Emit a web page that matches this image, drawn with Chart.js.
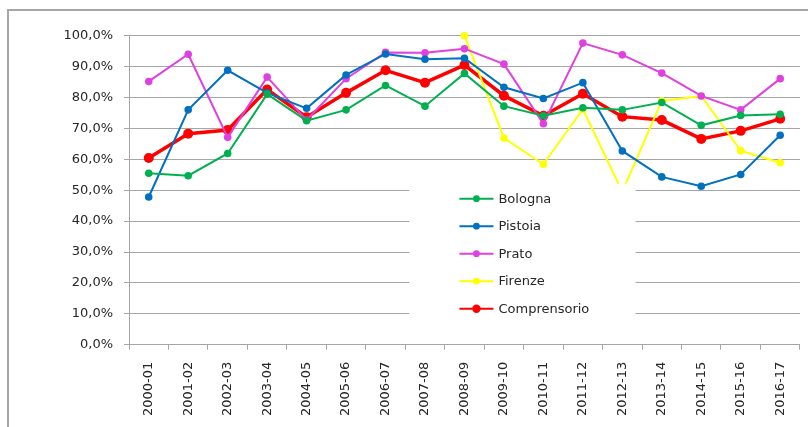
<!DOCTYPE html>
<html>
<head>
<meta charset="utf-8">
<script src="https://cdn.jsdelivr.net/npm/chart.js@4/dist/chart.umd.min.js"></script>
<style>
  html, body { margin: 0; padding: 0; background: #fff; }
  #wrap { position: relative; width: 808px; height: 427px; overflow: hidden; }
  #frame { position: absolute; left: 7px; top: 9px; width: 900px; height: 600px; border-top: 2px solid #a6a6a6; border-left: 2px solid #a6a6a6; }
  canvas { position: absolute; left: 0; top: 0; }
</style>
</head>
<body>
<div id="wrap">
  <div id="frame"></div>
  <canvas id="c" width="808" height="427"></canvas>
</div>
<script>
const categories = ['2000-01','2001-02','2002-03','2003-04','2004-05','2005-06','2006-07','2007-08','2008-09','2009-10','2010-11','2011-12','2012-13','2013-14','2014-15','2015-16','2016-17'];
const bologna      = [55.5, 54.7, 61.9, 81.1, 72.5, 76.0, 83.9, 77.2, 87.8, 77.2, 74.1, 76.7, 76.0, 78.4, 71.0, 74.2, 74.6];
const pistoia      = [47.8, 76.0, 88.8, 81.5, 76.5, 87.3, 94.1, 92.4, 92.7, 83.3, 79.7, 84.8, 62.7, 54.3, 51.3, 55.1, 67.8];
const prato        = [85.2, 94.0, 67.1, 86.6, 72.7, 86.1, 94.6, 94.5, 95.8, 90.8, 71.5, 97.6, 93.8, 87.9, 80.5, 76.0, 86.1];
const firenze      = [null, null, null, null, null, null, null, null, 100.0, 66.9, 58.4, 76.2, 49.5, 78.9, 80.5, 62.8, 58.9];
const comprensorio = [60.4, 68.3, 69.5, 82.6, 73.6, 81.5, 88.8, 84.8, 90.5, 80.6, 74.1, 81.2, 73.8, 72.7, 66.6, 69.2, 73.1];
const yTicks = [0, 10, 20, 30, 40, 50, 60, 70, 80, 90, 100];
const seriesNames = ['Bologna', 'Pistoia', 'Prato', 'Firenze', 'Comprensorio'];
const seriesColors = ['#00B050', '#0070C0', '#E040E0', '#FFFF00', '#FF0000'];

const GRID = '#a6a6a6';
Chart.defaults.font.family = "'DejaVu Sans', Verdana, sans-serif";
Chart.defaults.font.size = 13;
Chart.defaults.color = '#262626';

function mk(i, data, thick) {
  return {
    label: seriesNames[i],
    data: data,
    borderColor: seriesColors[i],
    backgroundColor: seriesColors[i],
    borderWidth: thick ? 3.5 : 2,
    pointRadius: thick ? 5 : 3.8,
    pointHoverRadius: thick ? 5 : 3.8,
    pointBorderWidth: 0,
    tension: 0,
    spanGaps: false,
    clip: false
  };
}

const insideLegend = {
  id: 'insideLegend',
  afterDatasetsDraw(chart) {
    const ctx = chart.ctx;
    const a = chart.chartArea;
    const w = a.right - a.left, h = a.bottom - a.top;
    const bx = a.left + w * 0.418, by = a.top + h * 0.479;
    const bw = w * 0.337, bh = h * 0.476;
    ctx.save();
    ctx.fillStyle = '#ffffff';
    ctx.fillRect(bx, by, bw, bh);
    const x0 = bx + 50;
    const y0 = by + 15;
    const step = 27.5;
    ctx.font = "13px 'DejaVu Sans'";
    ctx.textBaseline = 'middle';
    ctx.textAlign = 'left';
    chart.data.datasets.forEach((ds, i) => {
      const y = y0 + i * step;
      ctx.strokeStyle = ds.borderColor;
      ctx.lineWidth = 2;
      ctx.beginPath();
      ctx.moveTo(x0, y);
      ctx.lineTo(x0 + 34, y);
      ctx.stroke();
      ctx.fillStyle = ds.borderColor;
      ctx.beginPath();
      ctx.arc(x0 + 17, y, i === 4 ? 4.2 : 3.4, 0, Math.PI * 2);
      ctx.fill();
      ctx.fillStyle = '#262626';
      ctx.fillText(ds.label, x0 + 39, y + 0.5);
    });
    ctx.restore();
  }
};

new Chart(document.getElementById('c'), {
  type: 'line',
  data: {
    labels: categories,
    datasets: [
      mk(0, bologna),
      mk(1, pistoia),
      mk(2, prato),
      mk(3, firenze),
      mk(4, comprensorio, true)
    ]
  },
  options: {
    responsive: false,
    animation: false,
    devicePixelRatio: 1,
    layout: { padding: { top: 35.7, right: 7.5, bottom: 0, left: 0 } },
    plugins: { legend: { display: false }, tooltip: { enabled: false } },
    scales: {
      x: {
        type: 'category',
        offset: true,
        grid: { display: true, drawOnChartArea: false, offset: true, tickLength: 5, color: GRID, lineWidth: 1 },
        border: { display: true, color: GRID, width: 1 },
        ticks: { minRotation: 90, maxRotation: 90, autoSkip: false, padding: 12, font: { size: 13 } },
        afterFit(s) { s.height = 82.3; }
      },
      y: {
        min: 0, max: 100,
        afterBuildTicks(s) { s.ticks = yTicks.map(v => ({ value: v })); },
        grid: { color: GRID, lineWidth: 1, tickLength: 5 },
        border: { display: true, color: GRID, width: 1 },
        ticks: {
          padding: 11,
          callback: v => v.toFixed(1).replace('.', ',') + '%'
        },
        afterFit(s) { s.width = 129; }
      }
    }
  },
  plugins: [insideLegend]
});
</script>
</body>
</html>
